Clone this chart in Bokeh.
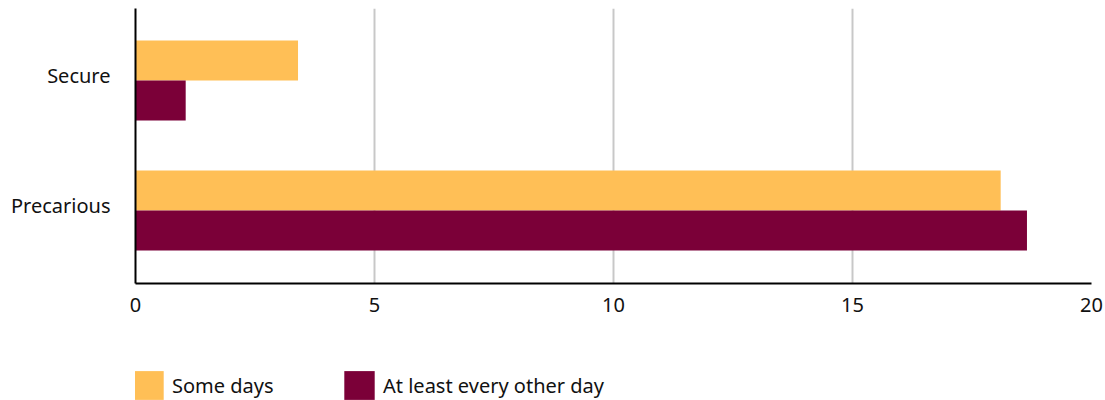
from bokeh.plotting import figure
from bokeh.layouts import column
from bokeh.models import Range1d, FixedTicker, Legend, LegendItem, ColumnDataSource
from bokeh.transform import dodge
from bokeh.embed import file_html
from bokeh.resources import INLINE

categories = ["Precarious", "Secure"]
some_days = [18.1, 3.4]
every_other_day = [18.65, 1.05]
x_ticks = [0, 5, 10, 15, 20]
series_names = ["Some days", "At least every other day"]
colors = ["#FFBF56", "#7B0038"]

FONT = "Noto Sans"
FS = "20px"
pos = list(range(len(categories)))
source = ColumnDataSource(dict(pos=pos, some=some_days, other=every_other_day))

p = figure(width=1105, height=340, output_backend="svg", toolbar_location=None,
           x_range=Range1d(0, 20), y_range=Range1d(-0.5615, 1.554),
           min_border_left=135, min_border_right=14, min_border_top=8,
           min_border_bottom=57)
p.outline_line_color = None
p.background_fill_color = "white"

bw = 0.3077
r1 = p.hbar(y=dodge("pos", bw / 2), left=0, right="some", height=bw, source=source,
            fill_color=colors[0], line_color=None)
r2 = p.hbar(y=dodge("pos", -bw / 2), left=0, right="other", height=bw, source=source,
            fill_color=colors[1], line_color=None)

label_shift = 0.038  # category labels sit slightly above the group centre
tick_pos = [i + label_shift for i in pos]
p.xaxis.ticker = FixedTicker(ticks=x_ticks)
p.yaxis.ticker = FixedTicker(ticks=tick_pos)
p.yaxis.major_label_overrides = {t: c for t, c in zip(tick_pos, categories)}
for ax in (p.xaxis[0], p.yaxis[0]):
    ax.axis_line_color = "black"
    ax.axis_line_width = 2
    ax.major_tick_line_color = None
    ax.minor_tick_line_color = None
    ax.major_label_text_font = FONT
    ax.major_label_text_font_size = FS
    ax.major_label_text_color = "#111111"
p.xaxis.major_label_standoff = 8
p.yaxis.major_label_standoff = 19

p.ygrid.grid_line_color = None
p.xgrid.grid_line_color = "#c8c8c8"
p.xgrid.grid_line_width = 2

# legend strip
p2 = figure(width=1105, height=60, output_backend="svg", toolbar_location=None,
            x_range=Range1d(0, 20), y_range=Range1d(100, 101),
            x_axis_type=None, y_axis_type=None,
            min_border_left=0, min_border_right=0, min_border_top=0, min_border_bottom=0)
p2.outline_line_color = None
p2.grid.grid_line_color = None

offsets = [-6, 205]
fields = ["some", "other"]
for name, col, off, fld in zip(series_names, colors, offsets, fields):
    proxy = p2.hbar(y="pos", left=0, right=fld, height=bw, source=source,
                    fill_color=col, line_color=None)
    lg = Legend(items=[LegendItem(label=name, renderers=[proxy])],
                location=(off, -3), orientation="horizontal",
                glyph_width=38, glyph_height=36, label_standoff=5,
                padding=0, margin=0, spacing=0,
                border_line_color=None, background_fill_alpha=0,
                label_text_font=FONT, label_text_font_size=FS,
                label_text_color="#111111")
    p2.add_layout(lg, "center")

open("out.html", "w").write(file_html(column(p, p2), INLINE))
